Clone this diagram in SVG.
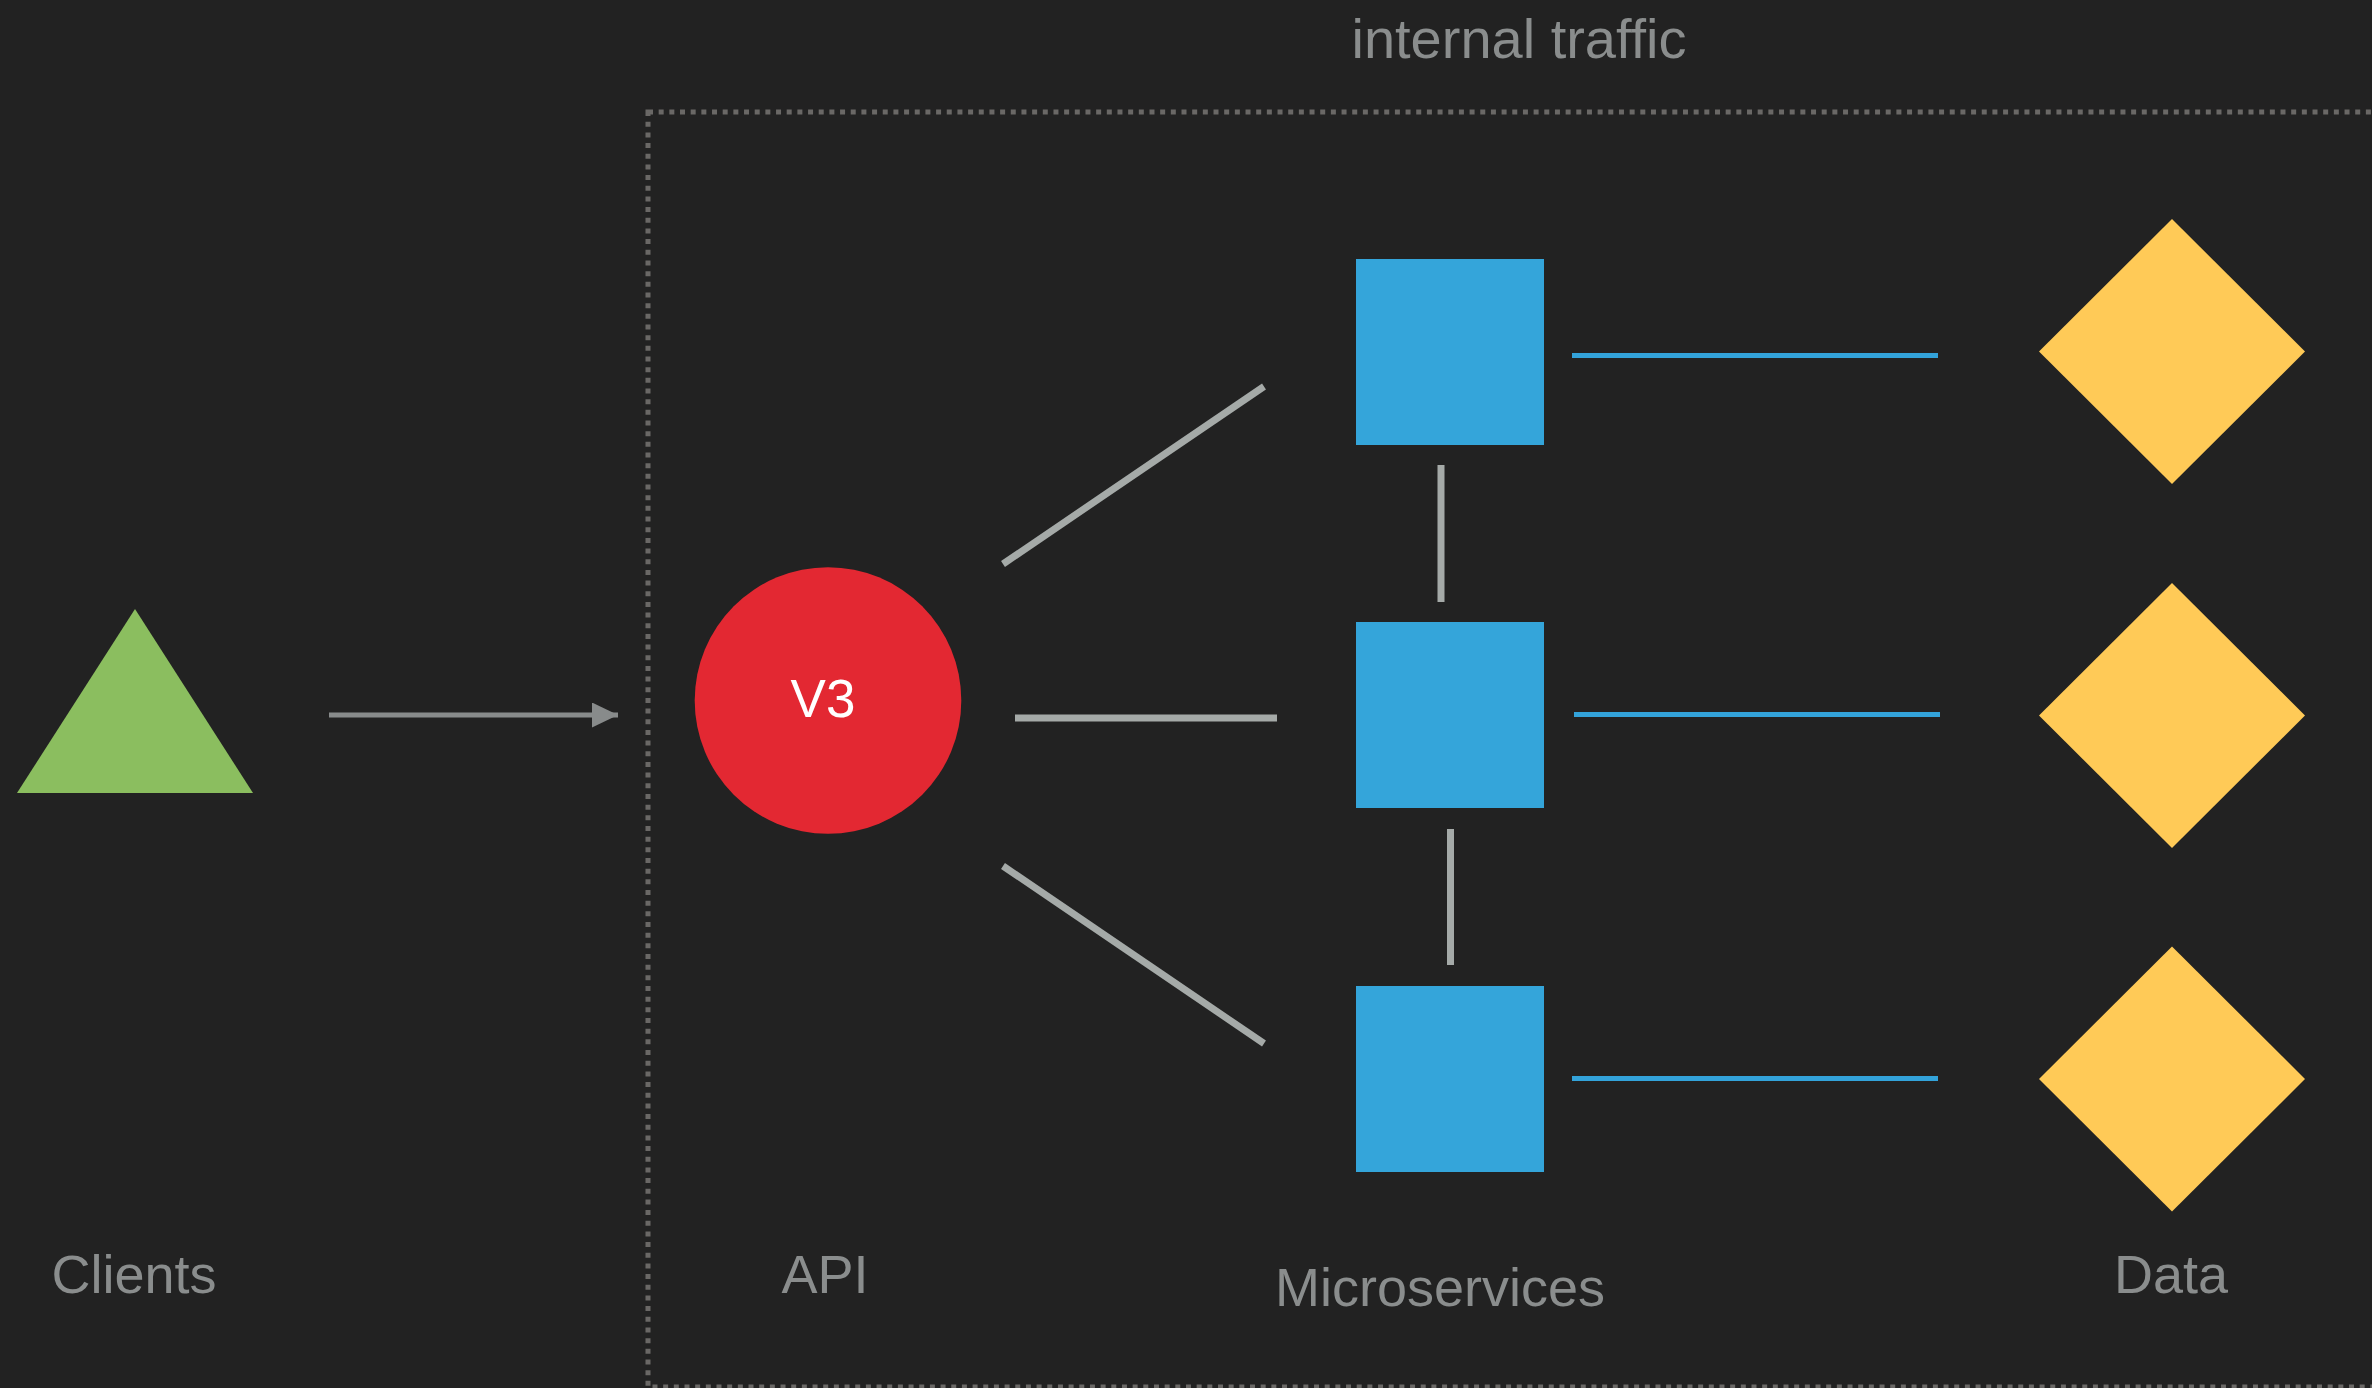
<svg xmlns="http://www.w3.org/2000/svg" width="2372" height="1388" viewBox="0 0 2372 1388">
<style>
.lbl{font-family:"Liberation Sans",Arial,sans-serif;fill:#8a8d8d;text-anchor:middle}
.gc{stroke:#a5aaa8;stroke-width:7;fill:none}
.bc{stroke:#33a3da;stroke-width:5;fill:none}
.ms{fill:#34a5da}
.db{fill:#ffca57}
</style>
<defs>
<marker id="ah" viewBox="0 0 26 25" refX="26" refY="12.5" markerWidth="26" markerHeight="25" markerUnits="userSpaceOnUse" orient="auto">
<path d="M0,0 L26,12.5 L0,25 Z" fill="#888b8b"/>
</marker>
</defs>
<rect width="2372" height="1388" fill="#222222"/>
<g id="boundary">
<rect x="648" y="112" width="1800" height="1275" fill="none" stroke="#6a6866" stroke-width="5" stroke-dasharray="5 5.67"/>
<text class="lbl" x="1519" y="58" font-size="56">internal traffic</text>
</g>
<g id="clients">
<polygon points="135,609 17,793 253,793" fill="#8bbe5f"/>
<text class="lbl" x="134" y="1293" font-size="54">Clients</text>
</g>
<g id="api">
<circle cx="828" cy="700.5" r="133.3" fill="#e32832"/>
<text x="823" y="717" font-size="53" font-family="Liberation Sans,Arial,sans-serif" fill="#ffffff" text-anchor="middle">V3</text>
<text class="lbl" x="825" y="1293" font-size="54">API</text>
</g>
<g id="ms1"><rect class="ms" x="1356" y="259" width="188" height="186"/></g>
<g id="ms2"><rect class="ms" x="1356" y="622" width="188" height="186"/></g>
<g id="ms3"><rect class="ms" x="1356" y="986" width="188" height="186"/></g>
<g id="ms-label"><text class="lbl" x="1440" y="1306" font-size="54">Microservices</text></g>
<g id="data1"><polygon class="db" points="2172,219 2305,351.5 2172,484 2039,351.5"/></g>
<g id="data2"><polygon class="db" points="2172,583 2305,715.5 2172,848 2039,715.5"/></g>
<g id="data3"><polygon class="db" points="2172,946.5 2305,1079 2172,1211.5 2039,1079"/></g>
<g id="data-label"><text class="lbl" x="2171" y="1293" font-size="54">Data</text></g>
<g id="connectors">
<line x1="329" y1="715" x2="618" y2="715" stroke="#888b8b" stroke-width="5" marker-end="url(#ah)"/>
<line class="gc" x1="1003" y1="564" x2="1264" y2="386.5"/>
<line class="gc" x1="1015" y1="718" x2="1277" y2="718"/>
<line class="gc" x1="1003" y1="866" x2="1264" y2="1043.5"/>
<line class="gc" x1="1441" y1="465" x2="1441" y2="602"/>
<line class="gc" x1="1450.5" y1="829" x2="1450.5" y2="965"/>
<line class="bc" x1="1572" y1="355.5" x2="1938" y2="355.5"/>
<line class="bc" x1="1574" y1="714.5" x2="1940" y2="714.5"/>
<line class="bc" x1="1572" y1="1078.5" x2="1938" y2="1078.5"/>
</g>
</svg>
